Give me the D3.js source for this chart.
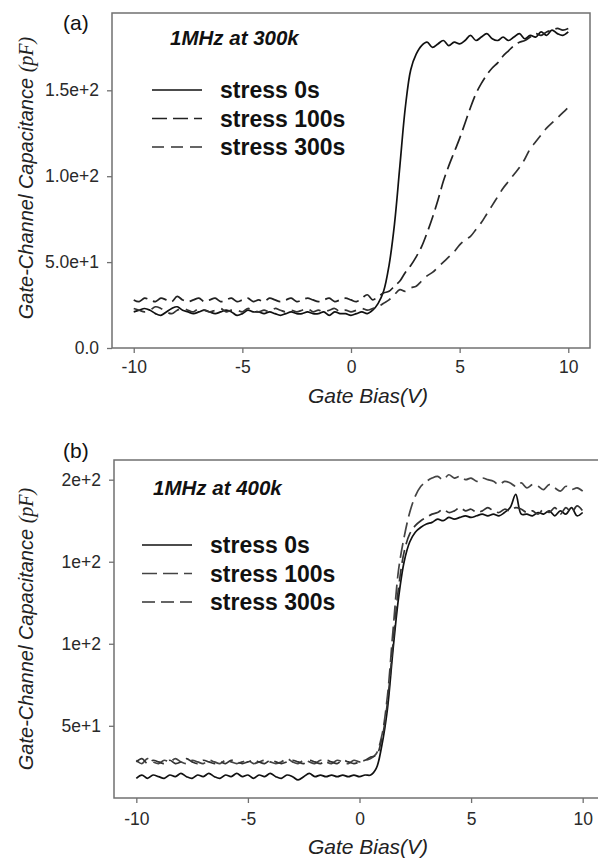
<!DOCTYPE html>
<html>
<head>
<meta charset="utf-8">
<script src="https://cdn.jsdelivr.net/npm/d3@7"></script>
<style>
	body { margin: 0; background: #fff; }
	svg { display: block; }
</style>
</head>
<body>
<div id="chart"></div>
<script>
// gate bias sweep, same grid for every curve (-10 .. 10 V, 0.25 V step)
let biasGrid = d3.range(-10, 10.001, 0.25);

// panel (a) 1MHz at 300k
let capA_stress0 = [
	21, 22, 23, 22, 20, 19, 21, 23, 24, 22, 21, 20, 21, 22, 21, 20, 21, 22, 21, 19,
	20, 22, 21, 21, 20, 21, 20, 19, 20, 21, 20, 20, 21, 20, 20, 21, 19, 21, 20, 20,
	19, 20, 21, 20, 22,
	26, 33, 48, 72, 106, 140, 162, 171, 176, 178, 175, 177, 179, 176, 178,
	177, 179, 182, 179, 181, 183, 180, 179, 181, 179, 181, 183, 180, 182, 181,
	184, 182, 185, 183, 182, 184
];
let capA_stress100 = [
	28, 27, 29, 28, 27, 29, 28, 27, 30, 28, 27, 28, 29, 27, 28, 29, 27, 28, 29, 27,
	28, 29, 27, 28, 27, 29, 28, 27, 28, 29, 27, 28, 29, 28, 27, 28, 29, 27, 28, 29,
	28, 27, 29, 31, 28,
	30, 32, 33, 36, 39, 44, 48, 53, 59, 67, 76, 86, 97, 106, 114,
	122, 131, 140, 148, 154, 159, 163, 166, 170, 173, 176, 178, 179, 181, 183,
	182, 184, 185, 186, 185, 186
];
let capA_stress300 = [
	23, 22, 21, 22, 24, 23, 21, 20, 22, 23, 22, 21, 23, 22, 21, 22, 23, 21, 22, 22,
	21, 23, 22, 21, 22, 21, 23, 22, 21, 22, 21, 22, 23, 21, 22, 21, 22, 23, 21, 22,
	21, 22, 23, 22, 23,
	24, 26, 28, 31, 34, 33, 35, 36, 39, 42, 44, 47, 50, 53, 56,
	60, 63, 65, 69, 73, 78, 83, 88, 93, 97, 101, 105, 110, 116, 120,
	124, 128, 131, 134, 137, 140
];

// panel (b) 1MHz at 400k
let capB_stress0 = [
	18, 20, 18, 20, 19, 18, 20, 19, 21, 19, 18, 20, 19, 21, 19, 18, 20, 19, 21, 19,
	20, 18, 20, 19, 21, 19, 18, 20, 19, 17, 19, 21, 19, 20, 19, 20, 19, 20, 19, 20,
	19, 20, 20, 24, 38,
	60, 96, 128, 150, 162, 168, 171, 173, 174, 176, 175, 177, 176, 177, 178,
	177, 178, 179, 178, 179, 178, 180, 183, 191, 179, 179, 178, 180, 179, 181,
	178, 181, 179, 183, 178, 180
];
let capB_stress100 = [
	29, 27, 30, 28, 27, 29, 28, 30, 28, 27, 29, 28, 27, 29, 28, 27, 29, 28, 27, 28,
	29, 27, 28, 29, 28, 27, 28, 30, 28, 27, 29, 28, 27, 29, 28, 27, 29, 28, 27, 29,
	28, 29, 30, 33, 44,
	68, 108, 145, 165, 180, 190, 196, 199, 201, 202, 200, 203, 201, 202, 200,
	201, 199, 201, 200, 199, 197, 199, 198, 196, 198, 195, 197, 196, 194, 197,
	195, 193, 196, 194, 195, 193
];
let capB_stress300 = [
	28, 30, 27, 29, 28, 27, 29, 27, 28, 30, 28, 27, 29, 28, 27, 28, 27, 29, 28, 27,
	28, 29, 28, 27, 29, 28, 27, 28, 29, 28, 27, 29, 28, 27, 29, 28, 27, 29, 28, 27,
	28, 29, 31, 32, 42,
	64, 100, 134, 156, 167, 172, 175, 177, 179, 180, 182, 180, 181, 183, 181,
	182, 180, 181, 183, 181, 180, 182, 181, 183, 182, 180, 181, 179, 182, 180,
	183, 179, 183, 180, 184, 181
];

let seriesNames = ['stress 0s', 'stress 100s', 'stress 300s'];
let xTicks = [-10, -5, 0, 5, 10];
let xTickLabels = ['-10', '-5', '0', '5', '10'];
let yTicksA = [0, 50, 100, 150];
let yTickLabelsA = ['0.0', '5.0e+1', '1.0e+2', '1.5e+2'];
let yTicksB = [50, 100, 150, 200];
let yTickLabelsB = ['5e+1', '1e+2', '1e+2', '2e+2'];

let sansFont = "'Liberation Sans', Arial, sans-serif";

let svg = d3.select('#chart').append('svg')
	.attr('width', 598)
	.attr('height', 858);

function drawPanel(p) {
	let x = d3.scaleLinear().domain([-11, 11]).range([p.left, p.right]);
	let y = d3.scaleLinear().domain(p.yDomain).range([p.bottom, p.top]);
	let g = svg.append('g');

	// frame
	g.append('rect')
		.attr('x', p.left)
		.attr('y', p.top)
		.attr('width', p.right - p.left)
		.attr('height', p.bottom - p.top)
		.attr('fill', 'none')
		.attr('stroke', '#707070')
		.attr('stroke-width', 1.5);

	let yAxis = g.append('g')
		.attr('transform', 'translate(' + p.left + ',0)')
		.call(d3.axisLeft(y)
			.tickValues(p.yTicks)
			.tickFormat(function(d, i) { return p.yLabels[i]; })
			.tickSize(5)
			.tickSizeOuter(0)
			.tickPadding(8));
	let xAxis = g.append('g')
		.attr('transform', 'translate(0,' + p.bottom + ')')
		.call(d3.axisBottom(x)
			.tickValues(xTicks)
			.tickFormat(function(d, i) { return xTickLabels[i]; })
			.tickSize(5)
			.tickSizeOuter(0)
			.tickPadding(p.xPad));
	[yAxis, xAxis].forEach(function(a) {
		a.select('.domain').remove();
		a.selectAll('line').attr('stroke', '#707070').attr('stroke-width', 1.3);
		a.selectAll('text')
			.attr('fill', '#2a2a2a')
			.style('font-family', sansFont)
			.style('font-size', '17.5px');
	});

	let line = d3.line()
		.x(function(d) { return x(d[0]); })
		.y(function(d) { return y(d[1]); })
		.curve(d3.curveCatmullRom.alpha(0.5));

	p.series.forEach(function(vals, i) {
		let pts = biasGrid.map(function(b, j) { return [b, vals[j]]; });
		g.append('path')
			.attr('d', line(pts))
			.attr('fill', 'none')
			.attr('stroke', p.colors[i])
			.attr('stroke-width', 1.7)
			.attr('stroke-dasharray', p.dashes[i]);
	});

	// legend
	seriesNames.forEach(function(name, i) {
		let ly = p.legendY + i * p.legendStep;
		g.append('line')
			.attr('x1', p.legendX)
			.attr('x2', p.legendX + 50)
			.attr('y1', ly)
			.attr('y2', ly)
			.attr('stroke', p.colors[i])
			.attr('stroke-width', 1.7)
			.attr('stroke-dasharray', p.dashes[i]);
		g.append('text')
			.attr('x', p.legendX + 68)
			.attr('y', ly + 8)
			.attr('fill', '#111')
			.style('font-family', sansFont)
			.style('font-weight', 'bold')
			.style('font-size', '23px')
			.text(name);
	});

	g.append('text')
		.attr('x', p.titleX)
		.attr('y', p.titleY)
		.attr('fill', '#111')
		.style('font-family', sansFont)
		.style('font-weight', 'bold')
		.style('font-style', 'italic')
		.style('font-size', '20.5px')
		.text(p.title);

	g.append('text')
		.attr('x', 63)
		.attr('y', p.tagY)
		.attr('fill', '#111')
		.style('font-family', sansFont)
		.style('font-size', '21px')
		.text(p.tag);

	// axis titles
	g.append('text')
		.attr('x', 368)
		.attr('y', p.xLabelY)
		.attr('text-anchor', 'middle')
		.attr('fill', '#222')
		.style('font-family', sansFont)
		.style('font-style', 'italic')
		.style('font-size', '21px')
		.text('Gate Bias(V)');

	let yl = g.append('text')
		.attr('transform', 'translate(33,' + p.yLabelMid + ') rotate(-90)')
		.attr('text-anchor', 'middle')
		.attr('fill', '#222')
		.style('font-family', sansFont)
		.style('font-style', 'italic')
		.style('font-size', '20px');
	yl.append('tspan').text('Gate-Channel Capacitance ');
	yl.append('tspan')
		.style('font-family', "'Liberation Serif', 'Times New Roman', serif")
		.text('(pF)');
}

drawPanel({
	left: 112, right: 590, top: 13, bottom: 348,
	yDomain: [0, 195],
	yTicks: yTicksA, yLabels: yTickLabelsA,
	xPad: 8,
	series: [capA_stress0, capA_stress100, capA_stress300],
	colors: ['#111', '#222', '#333'],
	dashes: ['none', '15,6', '12,7'],
	legendX: 152, legendY: 90, legendStep: 28.5,
	title: '1MHz at 300k', titleX: 170, titleY: 45,
	tag: '(a)', tagY: 30,
	xLabelY: 403,
	yLabelMid: 178
});

drawPanel({
	left: 114, right: 605, top: 460, bottom: 798,
	yDomain: [6, 212],
	yTicks: yTicksB, yLabels: yTickLabelsB,
	xPad: 10,
	series: [capB_stress0, capB_stress100, capB_stress300],
	colors: ['#111', '#444', '#333'],
	dashes: ['none', '15,6', '13,6'],
	legendX: 142, legendY: 545, legendStep: 28.5,
	title: '1MHz at 400k', titleX: 153, titleY: 495,
	tag: '(b)', tagY: 458,
	xLabelY: 854,
	yLabelMid: 629
});
</script>
</body>
</html>
